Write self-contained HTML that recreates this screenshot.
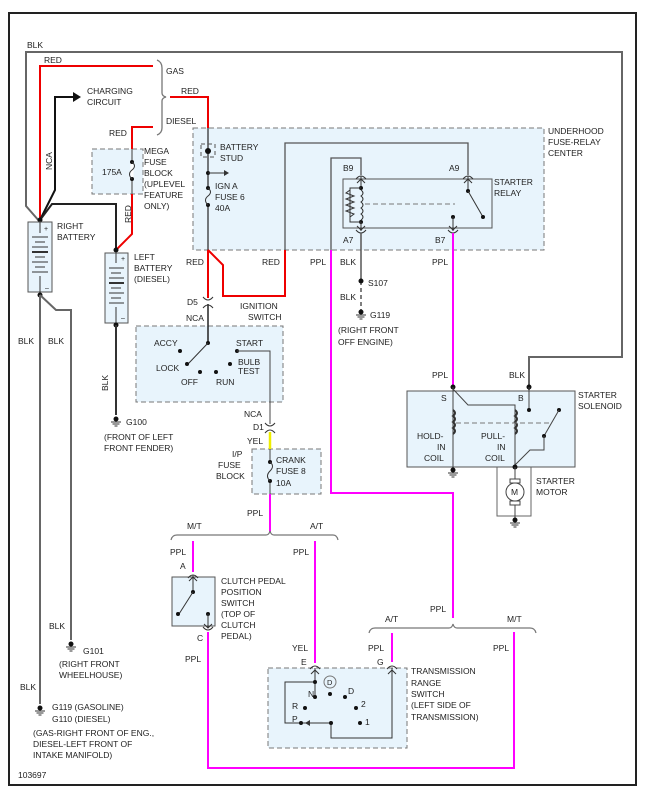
<!DOCTYPE html>
<html><head><style>
html,body{margin:0;padding:0;background:#fff;}
svg{display:block;font-family:"Liberation Sans",sans-serif;font-size:8.5px;fill:#222;}
text{fill:#222;}
</style></head><body>
<svg width="657" height="800" viewBox="0 0 657 800" xmlns="http://www.w3.org/2000/svg">
<defs>
<g id="gnd"><circle cx="0" cy="0" r="2.5" fill="#111"/><line x1="-5" y1="3" x2="5" y2="3" stroke="#333"/><line x1="-3.5" y1="5" x2="3.5" y2="5" stroke="#333"/><line x1="-1.5" y1="7" x2="1.5" y2="7" stroke="#333"/></g>
<g id="conU"><path d="M-5,3 Q0,-3 5,3" fill="none" stroke="#333"/></g>
<g id="conD"><path d="M-5,-3 Q0,3 5,-3" fill="none" stroke="#333"/></g>
</defs>
<rect x="9" y="13" width="627" height="772" fill="none" stroke="#222" stroke-width="2"/>

<g fill="#e8f4fc" stroke="#777" stroke-dasharray="5,3">
<rect x="193" y="128" width="351" height="122"/>
<rect x="92" y="149" width="51" height="45"/>
<rect x="136" y="326" width="147" height="76"/>
<rect x="252" y="449" width="69" height="45"/>
<rect x="268" y="668" width="139" height="80"/>
</g>
<g fill="#e8f4fc" stroke="#555">
<rect x="343" y="179" width="149" height="49"/>
<rect x="407" y="391" width="168" height="76"/>
<rect x="172" y="577" width="43" height="49"/>
</g>

<polyline points="40,222 26,206 26,52 622,52 622,357 529,357 529,390" fill="none" stroke="#666" stroke-width="2"/>
<polyline points="40,222 40,66 153,66" fill="none" stroke="#e00" stroke-width="2"/>
<path d="M157,60 Q162,62 162,68 L162,93 Q162,96 166,97 Q162,98 162,101 L162,128 Q162,133 157,135" fill="none" stroke="#777" stroke-width="1.3"/>
<polyline points="170,97 208,97 208,128" fill="none" stroke="#e00" stroke-width="2"/>
<polyline points="153,127 132,127 132,149" fill="none" stroke="#e00" stroke-width="2"/>
<line x1="132" y1="149" x2="132" y2="194" stroke="#666" stroke-width="1.3"/>
<polyline points="132,194 132,234 116,250" fill="none" stroke="#e00" stroke-width="2"/>
<polyline points="40,220 55,190 55,97 74,97" fill="none" stroke="#111" stroke-width="2"/>
<polygon points="73,92 81,97 73,102" fill="#111"/>
<polyline points="40,220 52,204 116,204 116,250" fill="none" stroke="#222" stroke-width="2"/>
<circle cx="40" cy="220" r="2.5" fill="#111"/>
<circle cx="116" cy="250" r="2.5" fill="#111"/>

<rect x="28" y="222" width="24" height="70" fill="#e8f4fc" stroke="#555"/>
<g stroke="#333"><line x1="40" y1="222" x2="40" y2="233"/><line x1="32" y1="237" x2="48" y2="237"/><line x1="35" y1="242" x2="45" y2="242"/><line x1="32" y1="247" x2="48" y2="247"/><line x1="32" y1="252" x2="48" y2="252" stroke-width="2"/><line x1="35" y1="257" x2="45" y2="257"/><line x1="32" y1="262" x2="48" y2="262"/><line x1="35" y1="267" x2="45" y2="267"/><line x1="32" y1="272" x2="48" y2="272"/><line x1="40" y1="276" x2="40" y2="292"/></g>
<text x="44" y="231" font-size="7">+</text><text x="45" y="290" font-size="7">–</text>
<rect x="105" y="253" width="23" height="70" fill="#e8f4fc" stroke="#555"/>
<g stroke="#333"><line x1="116" y1="253" x2="116" y2="263"/><line x1="109" y1="268" x2="124" y2="268"/><line x1="111" y1="273" x2="121" y2="273"/><line x1="109" y1="278" x2="124" y2="278"/><line x1="109" y1="283" x2="124" y2="283" stroke-width="2"/><line x1="111" y1="288" x2="121" y2="288"/><line x1="109" y1="293" x2="124" y2="293"/><line x1="111" y1="298" x2="121" y2="298"/><line x1="109" y1="303" x2="124" y2="303"/><line x1="116" y1="307" x2="116" y2="323"/></g>
<text x="121" y="261" font-size="7">+</text><text x="121" y="320" font-size="7">–</text>

<circle cx="40" cy="295" r="2.5" fill="#111"/>
<line x1="40" y1="295" x2="40" y2="704" stroke="#666" stroke-width="2"/>
<polyline points="40,295 56,310 71,310 71,640" fill="none" stroke="#666" stroke-width="2"/>
<circle cx="116" cy="325" r="2.5" fill="#111"/>
<line x1="116" y1="325" x2="116" y2="415" stroke="#333" stroke-width="2"/>
<use href="#gnd" x="116" y="419"/>
<use href="#gnd" x="71" y="644"/>
<use href="#gnd" x="40" y="708"/>

<line x1="132" y1="160" x2="132" y2="180" stroke="#fff" stroke-width="3"/>
<circle cx="132" cy="162" r="2" fill="#111"/><circle cx="132" cy="179" r="2" fill="#111"/>
<path d="M132,162 Q137,166 132,170 Q127,174 132,179" fill="none" stroke="#333"/>

<line x1="208" y1="128" x2="208" y2="250" stroke="#333" stroke-width="1.3"/>
<rect x="201" y="144" width="14" height="13" fill="none" stroke="#555" stroke-dasharray="4,3"/>
<circle cx="208" cy="151" r="3" fill="#111"/>
<circle cx="208" cy="173" r="2" fill="#111"/>
<line x1="208" y1="173" x2="224" y2="173" stroke="#333"/><polygon points="224,170 229,173 224,176" fill="#333"/>
<line x1="208" y1="188" x2="208" y2="205" stroke="#e8f4fc" stroke-width="3"/>
<circle cx="208" cy="188" r="2" fill="#111"/><circle cx="208" cy="205" r="2" fill="#111"/>
<path d="M208,188 Q213,192 208,196 Q203,200 208,205" fill="none" stroke="#333"/>
<polyline points="285,250 285,143 468,143 468,175" fill="none" stroke="#555" stroke-width="1.3"/>
<polyline points="331,250 331,158 361,158 361,175" fill="none" stroke="#555" stroke-width="1.3"/>
<line x1="208" y1="250" x2="208" y2="298" stroke="#e00" stroke-width="2"/>
<polyline points="208,250 223,265 223,296 285,296 285,250" fill="none" stroke="#e00" stroke-width="2"/>
<line x1="208" y1="304" x2="208" y2="343" stroke="#222" stroke-width="1.5"/>
<use href="#conD" x="208" y="300"/><use href="#conU" x="208" y="305"/>

<use href="#conU" x="361" y="176"/><use href="#conU" x="468" y="176"/>
<line x1="361" y1="176" x2="361" y2="188" stroke="#333"/><line x1="468" y1="176" x2="468" y2="191" stroke="#333"/>
<path d="M357,183 L361,179 L365,183 M464,183 L468,179 L472,183" fill="none" stroke="#333"/>
<circle cx="361" cy="188" r="2" fill="#111"/><circle cx="361" cy="222" r="2" fill="#111"/>
<path d="M361,188 L350,188 L350,222 L361,222" fill="none" stroke="#333"/>
<path d="M350,190 l-4,3 l8,3 l-8,3 l8,3 l-8,3 l8,3 l-8,3 l8,3 l-4,3" fill="none" stroke="#333"/>
<path d="M361,190 q4,3 0,6 q4,3 0,6 q4,3 0,6 q4,3 0,6 q4,3 0,6" fill="none" stroke="#333"/>
<line x1="361" y1="222" x2="361" y2="231" stroke="#333"/>
<line x1="365" y1="204" x2="455" y2="204" stroke="#777" stroke-dasharray="5,3"/>
<circle cx="468" cy="191" r="2" fill="#111"/><line x1="468" y1="191" x2="483" y2="217" stroke="#333"/><circle cx="483" cy="217" r="2" fill="#111"/>
<circle cx="453" cy="217" r="2" fill="#111"/><line x1="453" y1="217" x2="453" y2="231" stroke="#333"/>
<path d="M357,226 L361,230 L365,226 M449,226 L453,230 L457,226" fill="none" stroke="#333"/>
<use href="#conD" x="361" y="233"/><use href="#conD" x="453" y="233"/>
<line x1="361" y1="233" x2="361" y2="281" stroke="#555" stroke-width="1.5"/>
<line x1="361" y1="281" x2="361" y2="311" stroke="#555" stroke-width="1.5" stroke-dasharray="4,3"/>
<circle cx="361" cy="281" r="2.5" fill="#111"/>
<use href="#gnd" x="361" y="312"/>
<polyline points="331,250 331,493 453,493 453,618" fill="none" stroke="#f0f" stroke-width="2"/>
<line x1="453" y1="233" x2="453" y2="389" stroke="#f0f" stroke-width="2"/>

<circle cx="453" cy="387" r="2.5" fill="#111"/><circle cx="529" cy="387" r="2.5" fill="#111"/>
<line x1="453" y1="387" x2="453" y2="468" stroke="#444"/>
<path d="M453,410 q4,3 0,6 q4,3 0,6 q4,3 0,6 q4,3 0,6" fill="none" stroke="#333" stroke-width="2"/>
<polyline points="453,389 468,405 515,405 515,465" fill="none" stroke="#444"/>
<path d="M515,410 q4,3 0,6 q4,3 0,6 q4,3 0,6 q4,3 0,6" fill="none" stroke="#333" stroke-width="2"/>
<line x1="456" y1="423" x2="550" y2="423" stroke="#777" stroke-dasharray="5,3"/>
<line x1="529" y1="387" x2="529" y2="410" stroke="#444"/><circle cx="529" cy="410" r="2" fill="#111"/>
<circle cx="559" cy="410" r="2" fill="#111"/><line x1="559" y1="410" x2="544" y2="436" stroke="#444"/><circle cx="544" cy="436" r="2" fill="#111"/>
<polyline points="544,436 544,450 530,450 515,465" fill="none" stroke="#444"/>
<circle cx="515" cy="467" r="2.5" fill="#111"/>
<use href="#gnd" x="453" y="470"/>
<polyline points="497,467 497,516 531,516 531,467" fill="none" stroke="#666"/>
<line x1="515" y1="467" x2="515" y2="518" stroke="#444"/>
<rect x="510" y="479" width="10" height="4" fill="#fff" stroke="#444"/><rect x="510" y="501" width="10" height="4" fill="#fff" stroke="#444"/>
<circle cx="515" cy="492" r="9" fill="#fff" stroke="#444"/>
<text x="511" y="495">M</text>
<use href="#gnd" x="515" y="520"/>

<circle cx="208" cy="343" r="2" fill="#111"/><line x1="208" y1="343" x2="188" y2="364" stroke="#333"/>
<g fill="#111"><circle cx="180" cy="351" r="2"/><circle cx="187" cy="364" r="2"/><circle cx="200" cy="372" r="2"/><circle cx="216" cy="372" r="2"/><circle cx="230" cy="364" r="2"/><circle cx="237" cy="351" r="2"/></g>
<polyline points="237,351 270,351 270,424" fill="none" stroke="#444"/>
<use href="#conD" x="270" y="426"/><use href="#conU" x="270" y="430"/>
<line x1="270" y1="432" x2="270" y2="449" stroke="#ee0" stroke-width="2.5"/>
<line x1="270" y1="449" x2="270" y2="494" stroke="#444"/>
<line x1="270" y1="462" x2="270" y2="481" stroke="#e8f4fc" stroke-width="3"/>
<circle cx="270" cy="462" r="2" fill="#111"/><circle cx="270" cy="481" r="2" fill="#111"/>
<path d="M270,462 Q275,466 270,471 Q265,476 270,481" fill="none" stroke="#333"/>
<line x1="270" y1="494" x2="270" y2="532" stroke="#f0f" stroke-width="2"/>
<path d="M171,540 Q172,535 177,535 L266,535 Q269,535 270,531 Q271,535 274,535 L333,535 Q337,535 338,540" fill="none" stroke="#777" stroke-width="1.2"/>
<line x1="193" y1="541" x2="193" y2="572" stroke="#f0f" stroke-width="2"/>
<line x1="315" y1="541" x2="315" y2="663" stroke="#f0f" stroke-width="2"/>
<use href="#conU" x="193" y="575"/>
<line x1="193" y1="575" x2="193" y2="592" stroke="#333"/><path d="M189,581 L193,577 L197,581" fill="none" stroke="#333"/>
<circle cx="193" cy="592" r="2" fill="#111"/><line x1="193" y1="592" x2="179" y2="614" stroke="#333"/><circle cx="178" cy="614" r="2" fill="#111"/>
<circle cx="208" cy="614" r="2" fill="#111"/><line x1="208" y1="614" x2="208" y2="628" stroke="#333"/><path d="M204,624 L208,628 L212,624" fill="none" stroke="#333"/>
<use href="#conD" x="208" y="630"/>
<polyline points="208,632 208,768 514,768 514,632" fill="none" stroke="#f0f" stroke-width="2"/>
<path d="M369,633 Q370,628 375,628 L449,628 Q452,628 453,624 Q454,628 457,628 L530,628 Q535,628 536,633" fill="none" stroke="#777" stroke-width="1.2"/>
<line x1="392" y1="633" x2="392" y2="662" stroke="#f0f" stroke-width="2"/>
<use href="#conU" x="315" y="666"/><use href="#conU" x="392" y="666"/>
<path d="M311,674 L315,670 L319,674 M388,674 L392,670 L396,674" fill="none" stroke="#333"/>
<polyline points="315,668 315,697" fill="none" stroke="#333"/>
<polyline points="315,682 285,682 285,723 301,723" fill="none" stroke="#333"/>
<polyline points="301,723 331,723 331,738 392,738 392,668" fill="none" stroke="#333"/>
<polygon points="305,723 310,720 310,726" fill="#333"/>
<g fill="#111"><circle cx="315" cy="682" r="2"/><circle cx="315" cy="697" r="2"/><circle cx="330" cy="694" r="2"/><circle cx="345" cy="697" r="2"/><circle cx="305" cy="708" r="2"/><circle cx="356" cy="708" r="2"/><circle cx="301" cy="723" r="2"/><circle cx="331" cy="723" r="2"/><circle cx="360" cy="723" r="2"/></g>
<circle cx="330" cy="682" r="6" fill="none" stroke="#777"/>
<text x="327" y="685" font-size="7.5">D</text>

<g>
<text x="27" y="48">BLK</text>
<text x="44" y="63">RED</text>
<text x="166" y="74">GAS</text>
<text x="87" y="94">CHARGING</text><text x="87" y="105">CIRCUIT</text>
<text x="181" y="94">RED</text>
<text x="166" y="124">DIESEL</text>
<text x="109" y="136">RED</text>
<text x="102" y="175">175A</text>
<text x="144" y="154">MEGA</text><text x="144" y="165">FUSE</text><text x="144" y="176">BLOCK</text><text x="144" y="187">(UPLEVEL</text><text x="144" y="198">FEATURE</text><text x="144" y="209">ONLY)</text>
<text x="131" y="223" transform="rotate(-90 131 223)">RED</text>
<text x="52" y="170" transform="rotate(-90 52 170)">NCA</text>
<text x="57" y="229">RIGHT</text><text x="57" y="240">BATTERY</text>
<text x="134" y="260">LEFT</text><text x="134" y="271">BATTERY</text><text x="134" y="282">(DIESEL)</text>
<text x="220" y="150">BATTERY</text><text x="220" y="161">STUD</text>
<text x="215" y="189">IGN A</text><text x="215" y="200">FUSE 6</text><text x="215" y="211">40A</text>
<text x="548" y="134">UNDERHOOD</text><text x="548" y="145">FUSE-RELAY</text><text x="548" y="156">CENTER</text>
<text x="343" y="171">B9</text><text x="449" y="171">A9</text>
<text x="494" y="185">STARTER</text><text x="494" y="196">RELAY</text>
<text x="343" y="243">A7</text><text x="435" y="243">B7</text>
<text x="186" y="265">RED</text><text x="262" y="265">RED</text><text x="310" y="265">PPL</text>
<text x="340" y="265">BLK</text><text x="432" y="265">PPL</text>
<text x="368" y="286">S107</text>
<text x="340" y="300">BLK</text>
<text x="370" y="318">G119</text>
<text x="338" y="333">(RIGHT FRONT</text><text x="338" y="345">OFF ENGINE)</text>
<text x="187" y="305">D5</text>
<text x="240" y="309">IGNITION</text><text x="248" y="320">SWITCH</text>
<text x="186" y="321">NCA</text>
<text x="154" y="346">ACCY</text>
<text x="156" y="371">LOCK</text>
<text x="181" y="385">OFF</text><text x="216" y="385">RUN</text>
<text x="236" y="346">START</text>
<text x="238" y="365">BULB</text><text x="238" y="374">TEST</text>
<text x="244" y="417">NCA</text>
<text x="253" y="430">D1</text>
<text x="247" y="444">YEL</text>
<text x="232" y="457">I/P</text><text x="218" y="468">FUSE</text><text x="216" y="479">BLOCK</text>
<text x="276" y="463">CRANK</text><text x="276" y="474">FUSE 8</text><text x="276" y="486">10A</text>
<text x="247" y="516">PPL</text>
<text x="187" y="529">M/T</text><text x="310" y="529">A/T</text>
<text x="432" y="378">PPL</text><text x="509" y="378">BLK</text>
<text x="441" y="401">S</text><text x="518" y="401">B</text>
<text x="578" y="398">STARTER</text><text x="578" y="409">SOLENOID</text>
<text x="417" y="439">HOLD-</text><text x="437" y="450">IN</text><text x="424" y="461">COIL</text>
<text x="481" y="439">PULL-</text><text x="497" y="450">IN</text><text x="485" y="461">COIL</text>
<text x="536" y="484">STARTER</text><text x="536" y="495">MOTOR</text>
<text x="126" y="425">G100</text>
<text x="104" y="440">(FRONT OF LEFT</text><text x="104" y="451">FRONT FENDER)</text>
<text x="108" y="391" transform="rotate(-90 108 391)">BLK</text>
<text x="18" y="344">BLK</text><text x="48" y="344">BLK</text>
<text x="170" y="555">PPL</text><text x="293" y="555">PPL</text>
<text x="180" y="569">A</text>
<text x="221" y="584">CLUTCH PEDAL</text><text x="221" y="595">POSITION</text><text x="221" y="606">SWITCH</text><text x="221" y="617">(TOP OF</text><text x="221" y="628">CLUTCH</text><text x="221" y="639">PEDAL)</text>
<text x="197" y="641">C</text>
<text x="185" y="662">PPL</text>
<text x="49" y="629">BLK</text>
<text x="83" y="654">G101</text>
<text x="59" y="667">(RIGHT FRONT</text><text x="59" y="678">WHEELHOUSE)</text>
<text x="20" y="690">BLK</text>
<text x="52" y="710">G119 (GASOLINE)</text><text x="52" y="722">G110 (DIESEL)</text>
<text x="33" y="736">(GAS-RIGHT FRONT OF ENG.,</text><text x="33" y="747">DIESEL-LEFT FRONT OF</text><text x="33" y="758">INTAKE MANIFOLD)</text>
<text x="18" y="778">103697</text>
<text x="385" y="622">A/T</text><text x="430" y="612">PPL</text><text x="507" y="622">M/T</text>
<text x="292" y="651">YEL</text><text x="368" y="651">PPL</text><text x="493" y="651">PPL</text>
<text x="301" y="665">E</text><text x="377" y="665">G</text>
<text x="308" y="697">N</text><text x="348" y="694">D</text>
<text x="292" y="709">R</text><text x="361" y="707">2</text>
<text x="292" y="722">P</text><text x="365" y="725">1</text>
<text x="411" y="674">TRANSMISSION</text><text x="411" y="686">RANGE</text><text x="411" y="697">SWITCH</text><text x="411" y="708">(LEFT SIDE OF</text><text x="411" y="720">TRANSMISSION)</text>
</g>
</svg>
</body></html>
